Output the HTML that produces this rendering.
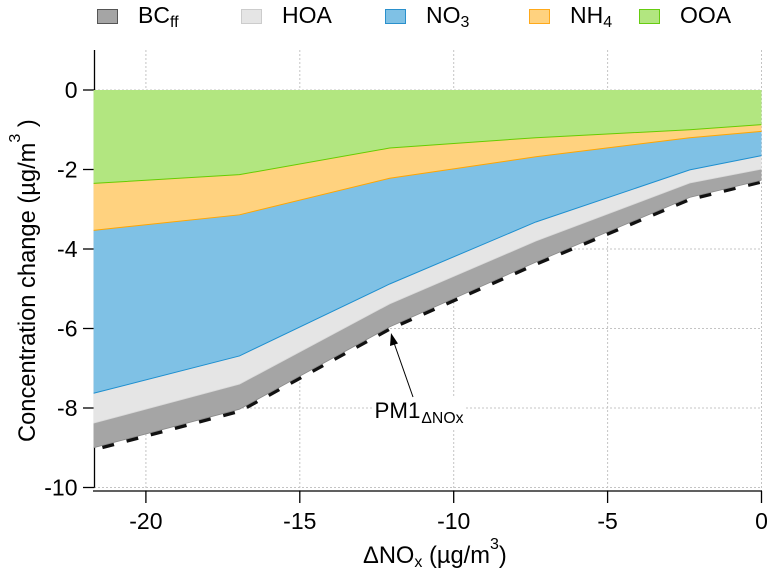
<!DOCTYPE html>
<html>
<head>
<meta charset="utf-8">
<title>Concentration change vs NOx</title>
<style>
html,body{margin:0;padding:0;background:#fff;}
svg{display:block;font-family:"Liberation Sans",sans-serif;fill:#000;}
</style>
</head>
<body>
<svg id="chart" xmlns="http://www.w3.org/2000/svg" width="775" height="575" viewBox="0 0 775 575">
  <rect x="0" y="0" width="775" height="575" fill="#fff"/>
  <g id="grid"></g>
  <g id="axes"></g>
  <g id="pm1"></g>
  <g id="areas"></g>

  <g font-size="23">
    <g>
      <rect x="97.5" y="9.5" width="20" height="14" fill="#A5A5A5" stroke="#555" stroke-width="1"/>
      <text x="138" y="23">BC<tspan font-size="16" dy="4">ff</tspan></text>
    </g>
    <g>
      <rect x="241.5" y="9.5" width="20" height="14" fill="#E5E5E5" stroke="#ccc" stroke-width="1"/>
      <text x="282" y="23">HOA</text>
    </g>
    <g>
      <rect x="385.5" y="9.5" width="20" height="14" fill="#7FC1E5" stroke="#2A90CC" stroke-width="1"/>
      <text x="426" y="23">NO<tspan font-size="16" dy="4">3</tspan></text>
    </g>
    <g>
      <rect x="529.5" y="9.5" width="20" height="14" fill="#FFD27F" stroke="#FFA91A" stroke-width="1"/>
      <text x="570" y="23">NH<tspan font-size="16" dy="4">4</tspan></text>
    </g>
    <g>
      <rect x="639.5" y="9.5" width="20" height="14" fill="#B2E680" stroke="#66CC11" stroke-width="1"/>
      <text x="680" y="23">OOA</text>
    </g>
  </g>

  <text font-size="23.7" transform="translate(35,442) rotate(-90)">Concentration change (µg/m<tspan font-size="16" dy="-15">3</tspan><tspan dy="15"> )</tspan></text>
  <text font-size="23.7" x="363" y="563">ΔNO<tspan font-size="16" dy="4">x</tspan><tspan dy="-4"> (µg/m</tspan><tspan font-size="16" dy="-14">3</tspan><tspan dy="14">)</tspan></text>

  <g>
    <rect x="374" y="397" width="90" height="32" fill="#fff"/>
    <line x1="413" y1="397" x2="393" y2="340" stroke="#000" stroke-width="1"/>
    <polygon points="391,333 398,343.5 390,346" fill="#000"/>
    <text font-size="22.3" x="374.5" y="418">PM1<tspan font-size="15.8" dy="5" dx="1">ΔNOx</tspan></text>
  </g>
</svg>
<script>
const deltaNOx = [-21.7, -16.96, -12.08, -7.33, -2.33, 0];
const ooa = [-2.35, -2.13, -1.46, -1.20, -1.00, -0.87];
const nh4 = [-1.18, -1.01, -0.76, -0.48, -0.20, -0.17];
const no3 = [-4.10, -3.55, -2.66, -1.64, -0.81, -0.61];
const hoa = [-0.75, -0.71, -0.50, -0.48, -0.33, -0.34];
const bcff = [-0.62, -0.63, -0.58, -0.53, -0.36, -0.28];
const pm1Total = [-9.04, -8.07, -6.00, -4.37, -2.74, -2.30];
const xTicks = [-20, -15, -10, -5, 0];
const yTicks = [0, -2, -4, -6, -8, -10];

const NS = 'http://www.w3.org/2000/svg';
function xScale(v) { return 761.5 + v * 30.78; }
function yScale(v) { return 90 - v * 39.75; }
function make(tag, attrs, parent) {
  const el = document.createElementNS(NS, tag);
  for (const k in attrs) el.setAttribute(k, attrs[k]);
  parent.appendChild(el);
  return el;
}
const gridG = document.getElementById('grid');
const axesG = document.getElementById('axes');
const areasG = document.getElementById('areas');
const pm1G = document.getElementById('pm1');
const xRight = xScale(0);

xTicks.forEach(function (t) {
  const gl = make('line', {x1: xScale(t), x2: xScale(t), y1: 50, y2: 491, stroke: '#c4c4c4', 'stroke-width': 1, 'stroke-dasharray': '2 2'}, gridG);
  
  
  const tick = make('line', {x1: xScale(t), x2: xScale(t), y1: 491, y2: 503, stroke: '#000', 'stroke-width': 1.3}, axesG);
  
  
  const lab = make('text', {x: xScale(t), y: 529, 'text-anchor': 'middle', 'font-size': 23}, axesG);
  
  
  lab.textContent = String(t);
});
yTicks.forEach(function (t) {
  const gl = make('line', {x1: 94, x2: xRight, y1: yScale(t), y2: yScale(t), stroke: '#c4c4c4', 'stroke-width': 1, 'stroke-dasharray': '2 2'}, gridG);
  
  
  const tick = make('line', {x1: 83, x2: 94.5, y1: yScale(t), y2: yScale(t), stroke: '#000', 'stroke-width': 1.3}, axesG);
  
  
  const lab = make('text', {x: 77.5, y: yScale(t) + 8, 'text-anchor': 'end', 'font-size': 23}, axesG);
  
  
  lab.textContent = String(t);
});
const yAxis = make('line', {x1: 94.5, x2: 94.5, y1: 50, y2: yScale(-10), stroke: '#000', 'stroke-width': 1.3}, axesG);


const xAxis = make('line', {x1: 93, x2: xRight + 0.5, y1: 491, y2: 491, stroke: '#000', 'stroke-width': 1.3}, axesG);



const layers = [
  {values: ooa, fill: '#B2E680', line: '#66CC00', name: 'area-ooa', lw: 1},
  {values: nh4, fill: '#FFD27F', line: '#FFA500', name: 'area-nh4', lw: 1},
  {values: no3, fill: '#7FC1E5', line: '#1E8FCF', name: 'area-no3', lw: 1},
  {values: hoa, fill: '#E5E5E5', line: '#D9D9D9', name: 'area-hoa', lw: 0.8},
  {values: bcff, fill: '#A5A5A5', line: '#8A8A8A', name: 'area-bcff', lw: 0.8}
];
let stackTop = deltaNOx.map(function () { return 0; });
layers.forEach(function (layer) {
  const bottom = stackTop.map(function (v, i) { return v + layer.values[i]; });
  const fwd = bottom.map(function (v, i) { return xScale(deltaNOx[i]) + ',' + yScale(v); });
  const rev = stackTop.map(function (v, i) { return xScale(deltaNOx[i]) + ',' + yScale(v); }).reverse();
  const area = make('polygon', {points: fwd.concat(rev).join(' '), fill: layer.fill}, areasG);
  
  
  layer.bottomPts = fwd.join(' ');
  stackTop = bottom;
});
layers.forEach(function (layer) {
  const edge = make('polyline', {points: layer.bottomPts, fill: 'none', stroke: layer.line, 'stroke-width': layer.lw}, areasG);
  
  
});
const pmLine = make('polyline', {
  points: pm1Total.map(function (v, i) { return xScale(deltaNOx[i]) + ',' + yScale(v); }).join(' '),
  fill: 'none', stroke: '#111', 'stroke-width': 4.4, 'stroke-dasharray': '12 13', 'stroke-dashoffset': -9
}, pm1G);


</script>
</body>
</html>
